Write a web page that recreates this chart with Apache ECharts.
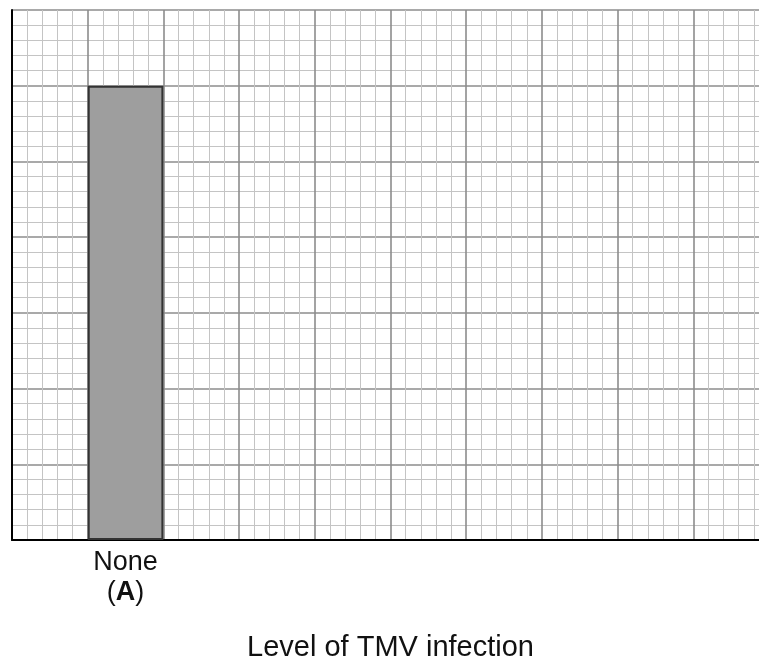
<!DOCTYPE html>
<html>
<head>
<meta charset="utf-8">
<script src="https://cdn.jsdelivr.net/npm/echarts@6/dist/echarts.min.js"></script>
<style>
html,body{margin:0;padding:0;background:#fff;}
#c{width:759px;height:660px;}
</style>
</head>
<body>
<div id="c"></div>
<script>
// Data
var categories = ['', 'None\n(A)', '', '', '', '', '', '', '', ''];
var values = ['-', 6, '-', '-', '-', '-', '-', '-', '-', '-'];
var xTitle = 'Level of TMV infection';
var xMax = 10;   // number of major grid columns
var yMax = 7;    // number of major grid rows

var chart = echarts.init(document.getElementById('c'), null, {renderer: 'canvas'});
var FONT = '"Liberation Sans", Arial, sans-serif';
var MAJOR = '#8c8c8c', MINOR = '#c4c4c4';

chart.setOption({
  animation: false,
  backgroundColor: '#ffffff',
  grid: {left: 12, top: 10, width: 757, height: 530, containLabel: false, outerBoundsMode: 'none'},
  xAxis: [
    {
      type: 'value', min: 0, max: xMax, interval: 1, position: 'bottom',
      axisLine: {show: true, onZero: false, lineStyle: {color: '#000', width: 2}},
      axisTick: {show: false}, axisLabel: {show: false},
      splitLine: {show: true, lineStyle: {color: MAJOR, width: 1.6}},
      minorTick: {show: false, splitNumber: 5},
      minorSplitLine: {show: true, lineStyle: {color: MINOR, width: 1}}
    },
    {
      type: 'category', data: categories, position: 'bottom', boundaryGap: true,
      axisLine: {show: false}, axisTick: {show: false}, splitLine: {show: false},
      axisLabel: {
        show: true, interval: 0, margin: 8,
        color: '#111', fontFamily: FONT, fontSize: 27, lineHeight: 30,
        formatter: function (v) {
          return v.split('\n').map(function (line) {
            return line.replace(/\(([A-Z])\)/, '{p|(}{b|$1}{p|)}');
          }).join('\n');
        },
        rich: {
          p: {fontFamily: FONT, fontSize: 27, color: '#111', lineHeight: 30},
          b: {fontFamily: FONT, fontSize: 27, color: '#111', fontWeight: 'bold', lineHeight: 30}
        }
      },
      name: xTitle, nameLocation: 'middle', nameGap: 93,
      nameTextStyle: {color: '#111', fontFamily: FONT, fontSize: 29}
    }
  ],
  yAxis: {
    type: 'value', min: 0, max: yMax, interval: 1,
    axisLine: {show: true, onZero: false, lineStyle: {color: '#000', width: 2}},
    axisTick: {show: false}, axisLabel: {show: false},
    splitLine: {show: true, lineStyle: {color: MAJOR, width: 1.6}},
    minorTick: {show: false, splitNumber: 5},
    minorSplitLine: {show: true, lineStyle: {color: MINOR, width: 1}}
  },
  series: [{
    type: 'bar', xAxisIndex: 1, yAxisIndex: 0,
    data: values, barWidth: '100%',
    itemStyle: {color: '#9e9e9e', borderColor: '#333', borderWidth: 2}
  }]
});
</script>
</body>
</html>
